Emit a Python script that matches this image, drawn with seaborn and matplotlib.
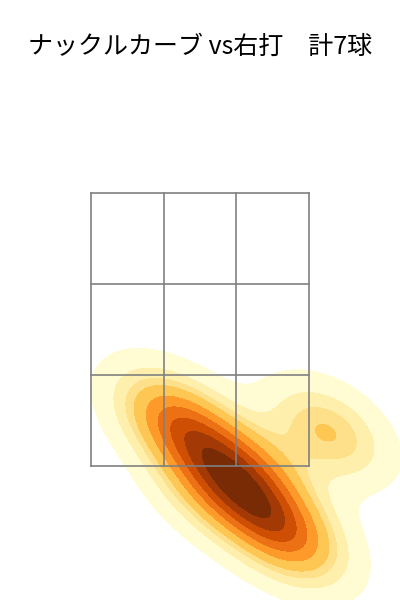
import numpy as np
import pandas as pd
import seaborn as sns
import matplotlib.pyplot as plt

# pitch locations (plate_x, plate_z in ft)
plate_x = [-0.21, -0.01, 0.10, 0.32, 0.44, 0.60, 0.83]
plate_z = [1.89, 1.68, 1.32, 1.47, 1.14, 0.94, 1.75]

zone_x = [-0.708, -0.236, 0.236, 0.708]
zone_z = [1.5, 2.1667, 2.8333, 3.5]

title = "ナックルカーブ vs右打\u3000計7球"

df = pd.DataFrame({"plate_x": plate_x, "plate_z": plate_z})

fig = plt.figure(figsize=(4, 6), dpi=100)
ax = fig.add_axes([0, 0, 1, 0.9])

sns.kdeplot(data=df, x="plate_x", y="plate_z", fill=True, cmap="YlOrBr", ax=ax)

# strike zone
for xv in zone_x:
    ax.plot([xv, xv], [zone_z[0], zone_z[-1]], color="gray", lw=1.2)
for zv in zone_z:
    ax.plot([zone_x[0], zone_x[-1]], [zv, zv], color="gray", lw=1.2)

ax.set_xlim(-1.3, 1.3)
ax.set_ylim(0.52, 4.47)
ax.axis("off")
ax.set_title(title, fontsize=18, family=["Noto Sans CJK JP", "DejaVu Sans"], pad=4)

plt.savefig("out.png", dpi=100)
